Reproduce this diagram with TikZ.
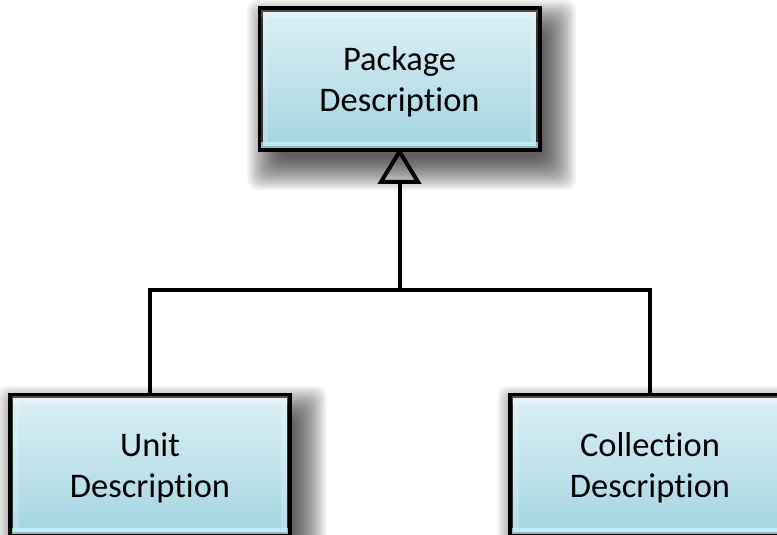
\documentclass[tikz,border=0pt]{standalone}
\usepackage{fontspec}
\setmainfont[RawFeature={-liga;-clig;-dlig;-calt}]{Carlito}
\usetikzlibrary{arrows.meta,backgrounds}
\definecolor{boxtop}{RGB}{218,239,245}
\definecolor{boxbot}{RGB}{163,212,225}
\definecolor{bevel}{RGB}{196,246,255}
\newcommand{\Desc}{Descript\kern0pt ion}
\newcommand{\boxtext}[1]{\raisebox{-4pt}[\height][\depth]{\begin{tabular}{@{}c@{}}#1\end{tabular}}}
\tikzset{
  descbox/.style={draw=black, line width=3.5pt, minimum width=277pt, minimum height=138pt,
    align=center, inner sep=0pt, font=\fontsize{34.5}{40.5}\selectfont,
    top color=boxtop, bottom color=boxbot, middle color=boxtop!55!boxbot},
  shadowlayer/.style={fill=black, fill opacity=0.055, rounded corners=10pt},
  link/.style={line width=4pt, line join=miter},
  inherit/.style={link, shorten >=-2pt, -{Triangle[open, length=36pt, width=43pt, line width=4pt]}}
}
\begin{document}
\begin{tikzpicture}[x=1pt, y=-1pt]
\useasboundingbox (0,0) rectangle (777,535);
\node[descbox] (pkg) at (399.5,79) {\boxtext{Package\\\Desc}};
\node[descbox] (unit) at (150,465) {\boxtext{Unit\\\Desc}};
\node[descbox] (coll) at (650,465) {\boxtext{Collection\\\Desc}};
\begin{scope}[on background layer]
\foreach \n in {pkg,unit,coll}{
  \foreach \e in {-8,-6,...,24}{
    \fill[shadowlayer] ([shift={(12-\e,16-\e)}]\n.north west) rectangle ([shift={(12+\e,16+\e)}]\n.south east);
  }
}
\end{scope}
% bevel highlights
\foreach \n in {pkg,unit,coll}{
  \fill[bevel, opacity=0.75] ([xshift=2pt,yshift=2pt]\n.south west) rectangle ([xshift=-2pt,yshift=8pt]\n.south east);
  \fill[white, opacity=0.3] ([xshift=2pt,yshift=-2pt]\n.north west) rectangle ([xshift=-2pt,yshift=-9pt]\n.north east);
  \fill[white, opacity=0.2] ([xshift=2pt,yshift=-9pt]\n.north west) rectangle ([xshift=9pt,yshift=8pt]\n.south west);
  \fill[white, opacity=0.2] ([xshift=-9pt,yshift=-9pt]\n.north east) rectangle ([xshift=-2pt,yshift=8pt]\n.south east);
  \draw[black, line width=3.5pt] (\n.south west) rectangle (\n.north east);
}
\coordinate (jn) at (pkg.south |- 0,290);
\draw[link] (unit.north) |- (jn) -| (coll.north);
\draw[inherit] (jn) -- (pkg.south);
\end{tikzpicture}
\end{document}
